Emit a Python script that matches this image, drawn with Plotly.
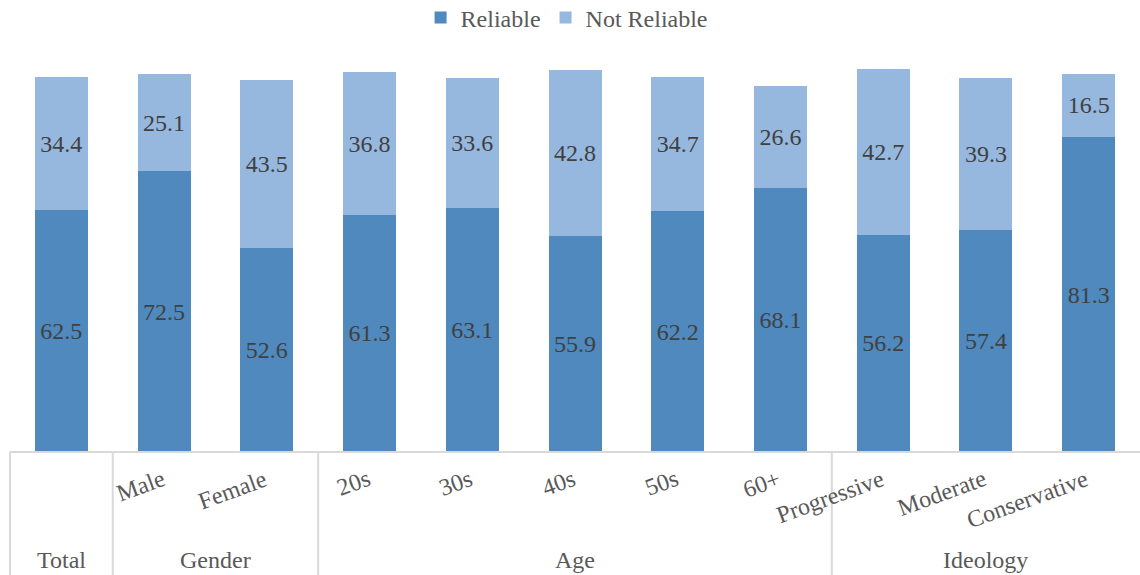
import plotly.graph_objects as go

# Survey breakdown: share answering "Reliable" vs "Not Reliable"
groups = ["Total", "Gender", "Gender", "Age", "Age", "Age", "Age", "Age",
          "Ideology", "Ideology", "Ideology"]
subgroups = ["", "Male", "Female", "20s", "30s", "40s", "50s", "60+",
             "Progressive", "Moderate", "Conservative"]
reliable = [62.5, 72.5, 52.6, 61.3, 63.1, 55.9, 62.2, 68.1, 56.2, 57.4, 81.3]
not_reliable = [34.4, 25.1, 43.5, 36.8, 33.6, 42.8, 34.7, 26.6, 42.7, 39.3, 16.5]

FONT = "Liberation Serif"
LABEL_COLOR = "#404040"
AXIS_TEXT = "#595959"
GRID = "#d9d9d9"
C_REL = "#4f89bd"
C_NOT = "#96b8df"

n = len(subgroups)
idx = list(range(n))
PLOT_W = 1130

fig = go.Figure()
for name, vals, col in [("Reliable", reliable, C_REL),
                        ("Not Reliable", not_reliable, C_NOT)]:
    fig.add_trace(go.Bar(
        x=idx, y=vals, name=name,
        marker=dict(color=col, line=dict(width=0)),
        text=[f"{v:.1f}" for v in vals],
        textposition="inside", insidetextanchor="middle",
        textangle=0, constraintext="none",
        textfont=dict(family=FONT, size=24, color=LABEL_COLOR),
    ))


def px(i):
    """Paper-x of a category position (range -0.5 .. n-0.5)."""
    return (i + 0.5) / n


annotations = []
shapes = []

# baseline under the bars
shapes.append(dict(type="line", xref="paper", yref="paper",
                   x0=0, x1=1, y0=0, y1=0, line=dict(color=GRID, width=2)))

# rotated sub-category labels, right end at the category centre
for i, s in enumerate(subgroups):
    if s:
        annotations.append(dict(
            x=px(i) + 6 / PLOT_W, y=-0.028, xref="paper", yref="paper",
            text=s, showarrow=False, textangle=-20,
            xanchor="right", yanchor="top",
            font=dict(family=FONT, size=24, color=AXIS_TEXT)))

# group labels centred under their categories
start = 0
for i in range(1, n + 1):
    if i == n or groups[i] != groups[start]:
        centre = (start + i - 1) / 2
        annotations.append(dict(
            x=px(centre), y=-0.28, xref="paper", yref="paper",
            text=groups[start], showarrow=False,
            xanchor="center", yanchor="middle",
            font=dict(family=FONT, size=24, color=AXIS_TEXT)))
        start = i
# dividers at the left edge and between groups
for i in range(n):
    if i == 0 or groups[i] != groups[i - 1]:
        xp = i / n
        shapes.append(dict(type="line", xref="paper", yref="paper",
                           x0=xp, x1=xp, y0=0, y1=-0.33,
                           line=dict(color=GRID, width=2)))

fig.update_layout(
    barmode="stack",
    bargap=0.484,
    width=1140, height=575,
    margin=dict(l=10, r=0, t=65, b=123, autoexpand=False),
    paper_bgcolor="white", plot_bgcolor="white",
    font=dict(family=FONT, color=AXIS_TEXT),
    xaxis=dict(range=[-0.5, n - 0.5], showticklabels=False, showgrid=False,
               zeroline=False, showline=False, fixedrange=True),
    yaxis=dict(range=[0, 100], visible=False, fixedrange=True),
    legend=dict(orientation="h", x=0.497, xanchor="center", xref="container",
                y=1 - 18 / 575, yanchor="middle", yref="container",
                font=dict(family=FONT, size=24, color=AXIS_TEXT),
                itemwidth=30, traceorder="normal"),
    annotations=annotations,
    shapes=shapes,
    showlegend=True,
)

fig.write_html("out.html")
